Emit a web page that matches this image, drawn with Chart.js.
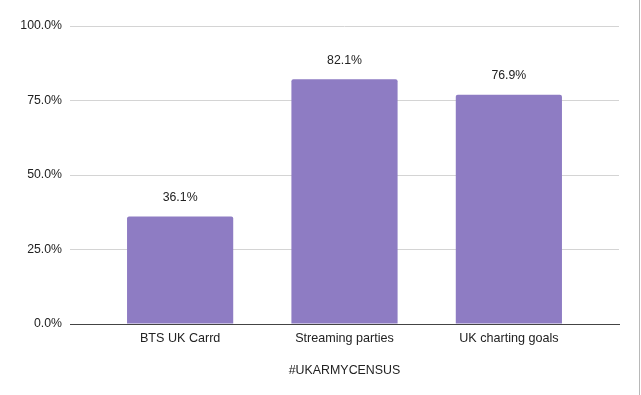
<!DOCTYPE html>
<html>
<head>
<meta charset="utf-8">
<script src="https://cdn.jsdelivr.net/npm/chart.js@4/dist/chart.umd.min.js"></script>
<style>
  html, body { margin: 0; padding: 0; background: #fff; }
  #wrap { position: relative; width: 641px; height: 395px; }
  #wrap::after { content: ""; position: absolute; left: 639px; top: 0; width: 1px; height: 395px; background: #b8b8b8; }
  canvas { display: block; }
</style>
</head>
<body>
<div id="wrap"><canvas id="c" width="641" height="395"></canvas></div>
<script>
const categories = ["BTS UK Carrd", "Streaming parties", "UK charting goals"];
const values = [36.1, 82.1, 76.9];
const yTicks = [0, 25, 50, 75, 100];
const xTitle = "#UKARMYCENSUS";

const FONT = "'Liberation Sans', Arial, sans-serif";
const TEXT = "#222222";

const valueLabels = {
  id: "valueLabels",
  afterDatasetsDraw(chart) {
    const ctx = chart.ctx;
    const meta = chart.getDatasetMeta(0);
    ctx.save();
    ctx.font = "12.3px " + FONT;
    ctx.fillStyle = TEXT;
    ctx.textAlign = "center";
    ctx.textBaseline = "middle";
    meta.data.forEach((bar, i) => {
      ctx.fillText(values[i].toFixed(1) + "%", bar.x, bar.y - 19);
    });
    ctx.restore();
  }
};

new Chart(document.getElementById("c"), {
  type: "bar",
  data: {
    datasets: [{
      data: categories.map((c, i) => ({ x: i, y: values[i] })),
      backgroundColor: "#8e7cc3",
      borderRadius: { topLeft: 2, topRight: 2, bottomLeft: 0, bottomRight: 0 },
      borderSkipped: "start",
      categoryPercentage: 1,
      barPercentage: 0.646
    }]
  },
  options: {
    responsive: false,
    animation: false,
    layout: { padding: { left: 0, right: 22, top: 26, bottom: 0 } },
    plugins: { legend: { display: false }, tooltip: { enabled: false } },
    scales: {
      x: {
        type: "linear",
        bounds: "data",
        offset: false,
        min: -0.67,
        max: 2.67,
        afterBuildTicks: (s) => { s.ticks = categories.map((c, i) => ({ value: i })); },
        grid: { display: false, drawTicks: false, offset: false },
        border: { display: true, color: "#444444", width: 1 },
        ticks: {
          autoSkip: false,
          maxRotation: 0,
          padding: 7,
          color: TEXT,
          font: { family: FONT, size: 12.6 },
          callback: (v) => categories[Math.round(v)] ?? ""
        },
        title: {
          display: true,
          text: xTitle,
          color: TEXT,
          font: { family: FONT, size: 12.4 },
          padding: { top: 0, bottom: 17 }
        },
        afterFit: (s) => { s.height = 71; }
      },
      y: {
        min: 0,
        max: 100,
        afterBuildTicks: (s) => { s.ticks = yTicks.map(v => ({ value: v })); },
        grid: {
          drawTicks: false,
          color: (c) => c.tick && c.tick.value === 0 ? "rgba(0,0,0,0)" : "#d4d4d4",
          lineWidth: 1
        },
        border: { display: false },
        ticks: {
          padding: 8,
          color: TEXT,
          font: { family: FONT, size: 12.3 },
          callback: (v) => Number(v).toFixed(1) + "%"
        },
        afterFit: (s) => { s.width = 70; }
      }
    }
  },
  plugins: [valueLabels]
});
</script>
</body>
</html>
